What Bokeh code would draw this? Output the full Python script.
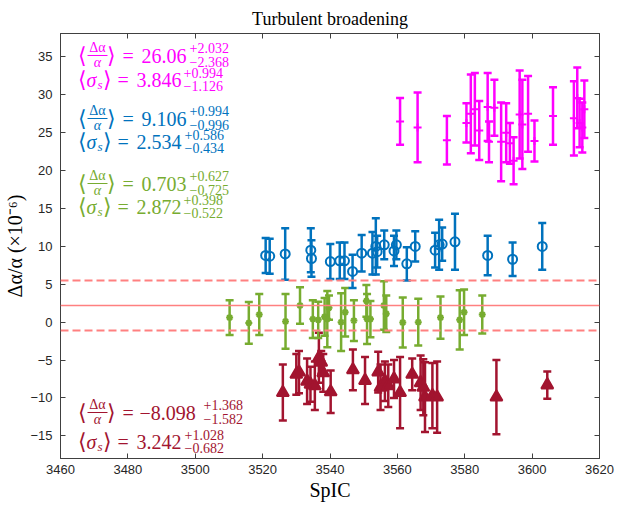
from bokeh.plotting import figure
from bokeh.models import (ColumnDataSource, Whisker, TeeHead, Span, Label, LinearAxis,
                          FixedTicker, Range1d, CustomLabelingPolicy)
from bokeh.embed import file_html
from bokeh.resources import INLINE

# ---------------- data ----------------
mag_x = [3560.8, 3566.0, 3574.7, 3580.5, 3581.8, 3583.0, 3584.3, 3586.8, 3587.2, 3588.8,
         3590.8, 3592.3, 3593.4, 3594.5, 3596.3, 3597.1, 3598.8, 3600.7, 3606.2, 3612.4,
         3613.4, 3614.1, 3614.9, 3615.5]
mag_y = [26.5, 25.7, 24.0, 26.3, 27.5, 28.1, 25.3, 28.4, 23.8, 28.3,
         23.8, 25.0, 23.6, 21.3, 27.4, 26.1, 27.5, 23.9, 27.2, 26.9,
         29.6, 26.3, 25.7, 28.1]
mag_e = [3.1, 4.6, 3.2, 2.6, 5.2, 4.8, 3.9, 4.5, 2.7, 3.7,
         5.2, 3.9, 2.7, 3.1, 5.8, 5.9, 5.0, 2.7, 3.8, 4.9,
         4.0, 3.2, 3.3, 3.8]

blu_x = [3520.9, 3522.1, 3526.7, 3534.3, 3534.5, 3540.1, 3542.9, 3544.3, 3546.7, 3549.4,
         3552.6, 3553.6, 3554.0, 3556.1, 3559.0, 3559.7, 3562.8, 3565.3, 3571.2, 3572.4,
         3573.3, 3577.1, 3586.8, 3594.2, 3603.0]
blu_y = [8.8, 8.7, 9.0, 9.5, 8.4, 8.0, 8.1, 8.1, 6.7, 9.1,
         9.1, 10.0, 9.3, 10.2, 9.4, 10.2, 7.7, 10.0, 9.5, 10.2,
         10.3, 10.6, 8.8, 8.3, 10.0]
blu_e = [2.3, 2.3, 3.4, 2.9, 2.4, 2.3, 2.4, 2.4, 2.2, 2.4,
         2.8, 3.7, 2.1, 1.9, 2.0, 1.9, 2.2, 2.0, 2.3, 3.3,
         2.2, 3.7, 2.6, 2.2, 3.1]

grn_x = [3510.2, 3515.9, 3519.0, 3526.8, 3531.1, 3534.9, 3536.5, 3538.4, 3539.2, 3539.7,
         3543.3, 3544.5, 3547.1, 3550.8, 3551.0, 3552.0, 3556.0, 3556.7, 3561.6, 3566.2,
         3572.8, 3578.5, 3579.8, 3585.2]
grn_y = [0.6, -0.1, 1.0, 0.1, 2.2, 0.4, 0.3, 0.7, 0.4, 1.9,
         0.0, 1.3, 0.2, 2.8, 0.4, 0.4, 2.2, 1.1, -0.05, 0.0,
         0.6, 0.3, 1.3, 1.0]
grn_e = [2.3, 2.75, 2.7, 3.6, 2.4, 2.5, 2.4, 2.5, 3.7, 1.6,
         3.8, 3.2, 2.7, 2.1, 3.3, 2.4, 3.2, 2.4, 3.3, 3.1,
         2.8, 3.9, 3.0, 2.5]

red_x = [3526.0, 3530.0, 3530.8, 3533.2, 3534.2, 3535.5, 3536.7, 3537.4, 3538.0, 3540.2,
         3546.8, 3550.4, 3554.3, 3555.0, 3556.3, 3557.3, 3559.0, 3560.8, 3564.4, 3566.9,
         3567.7, 3568.2, 3570.4, 3571.8, 3589.4, 3604.5]
red_y = [-9.3, -6.9, -6.6, -7.8, -8.2, -8.4, -4.7, -5.3, -6.7, -9.2,
         -6.3, -7.7, -6.6, -8.6, -7.8, -8.4, -7.5, -9.3, -6.9, -8.0,
         -8.6, -9.9, -9.7, -9.9, -9.9, -8.3]
red_e = [3.7, 2.7, 2.8, 3.0, 2.3, 3.2, 3.3, 1.5, 2.5, 2.8,
         2.7, 3.1, 2.7, 3.0, 2.6, 2.8, 2.5, 4.7, 2.1, 3.6,
         3.7, 4.6, 4.3, 4.7, 4.9, 1.8]

ref_mean = 2.2
ref_band = [-1.1, 5.5]

x_ticks = [3460, 3480, 3500, 3520, 3540, 3560, 3580, 3600, 3620]
y_ticks = [-15, -10, -5, 0, 5, 10, 15, 20, 25, 30, 35]

stats = [
    # color, <Δα/α> value, sup, sub, <σs> value, sup, sub
    ("#FF00FF", "26.06", "+2.032", "\u22122.368", "3.846", "+0.994", "\u22121.126"),
    ("#0072BD", "9.106", "+0.994", "\u22120.996", "2.534", "+0.586", "\u22120.434"),
    ("#77AC30", "0.703", "+0.627", "\u22120.725", "2.872", "+0.398", "\u22120.522"),
    ("#A2142F", "\u22128.098", "+1.368", "\u22121.582", "3.242", "+1.028", "\u22120.682"),
]

# ---------------- figure ----------------
X0, X1, Y0, Y1 = 3460, 3620, -18.0, 38.1
W, H = 623, 508
p = figure(width=W, height=H, output_backend="svg", toolbar_location=None,
           x_range=Range1d(X0, X1), y_range=Range1d(Y0, Y1),
           min_border_left=60, min_border_right=24, min_border_top=33, min_border_bottom=50,
           title="Turbulent broadening")
p.title.align = "center"
p.title.text_font = "Liberation Serif"
p.title.text_font_size = "18px"
p.title.text_font_style = "normal"
p.title.text_color = "#000000"
p.grid.visible = False
p.outline_line_color = "#404040"
p.background_fill_color = "white"
p.border_fill_color = "white"

no_labels = CustomLabelingPolicy(code="""
const keep = [];
for (const i of indices) keep.push(i);
for (const i of keep) indices.unset(i);
return indices;
""")

def style_axis(ax, ticks, labels=True):
    ax.ticker = FixedTicker(ticks=ticks)
    ax.minor_tick_line_color = None
    ax.minor_tick_in = 0
    ax.minor_tick_out = 0
    ax.major_tick_in = 5
    ax.major_tick_out = 0
    ax.major_tick_line_color = "#404040"
    ax.axis_line_color = "#404040"
    if labels:
        ax.major_label_text_font = "Liberation Sans"
        ax.major_label_text_font_size = "13px"
        ax.major_label_text_color = "#262626"
    else:
        ax.major_label_policy = no_labels
        ax.major_label_text_font_size = "0px"
        ax.major_label_standoff = 0

style_axis(p.xaxis[0], x_ticks)
style_axis(p.yaxis[0], y_ticks)
p.xaxis[0].major_label_standoff = 6
p.yaxis[0].major_label_standoff = 8
p.xaxis.axis_label = "SpIC"
p.yaxis.axis_label = "\u0394\u03b1/\u03b1 (\u00d710\u207b\u2076)"
for ax in (p.xaxis[0], p.yaxis[0]):
    ax.axis_label_text_font = "Liberation Serif"
    ax.axis_label_text_font_style = "normal"
    ax.axis_label_text_font_size = "20px"
    ax.axis_label_text_color = "#000000"
p.xaxis[0].axis_label_standoff = 2
p.yaxis[0].axis_label_standoff = 1

top_ax = LinearAxis()
style_axis(top_ax, x_ticks, labels=False)
p.add_layout(top_ax, "above")
right_ax = LinearAxis()
style_axis(right_ax, y_ticks, labels=False)
p.add_layout(right_ax, "right")

# reference lines
red_line = "#FF8080"
p.add_layout(Span(location=ref_mean, dimension="width", line_color=red_line, line_width=1.5))
for b in ref_band:
    p.add_layout(Span(location=b, dimension="width", line_color=red_line, line_width=2,
                      line_dash="8 4"))

def series(xs, ys, es, color, marker, size, filled):
    src = ColumnDataSource(dict(x=xs, y=ys,
                                lo=[y - e for y, e in zip(ys, es)],
                                hi=[y + e for y, e in zip(ys, es)]))
    w = Whisker(base="x", lower="lo", upper="hi", source=src, line_color=color, line_width=2.5,
                upper_head=TeeHead(size=8, line_color=color, line_width=2.5),
                lower_head=TeeHead(size=8, line_color=color, line_width=2.5))
    p.add_layout(w)
    p.scatter("x", "y", source=src, marker=marker, size=size, line_color=color,
              line_width=2, fill_color=color if filled else None)

series(red_x, red_y, red_e, "#A2142F", "triangle", 12, True)
series(grn_x, grn_y, grn_e, "#77AC30", "asterisk", 7, False)
series(blu_x, blu_y, blu_e, "#0072BD", "circle", 9, False)
series(mag_x, mag_y, mag_e, "#FF00FF", "cross", 8, False)

# ---------------- annotations (positioned in page pixels) ----------------
FX0, FX1, FY0, FY1 = 60, 599, 33, 458
def px2x(px):
    return X0 + (px - FX0) / (FX1 - FX0) * (X1 - X0)
def py2y(py):
    return Y1 - (py - FY0) / (FY1 - FY0) * (Y1 - Y0)

SERIF = "Liberation Serif"
def lab(text, px, py, color, size, style="normal", align="left"):
    p.add_layout(Label(x=px2x(px), y=py2y(py), text=text, text_color=color,
                       text_font=SERIF, text_font_size=f"{size}px", text_font_style=style,
                       text_align=align, text_baseline="middle"))

centers = [(55, 79), (118, 141), (183, 206), (412, 441)]
supx = [(189, 183), (189, 184), (189, 183), (203, 184)]
for (color, v1, s1, b1, v2, s2, b2), (c1, c2), (sx1, sx2) in zip(stats, centers, supx):
    # line 1: <Δα/α> = v1
    lab("\u27e8", 77, c1, color, 22)
    lab("\u0394\u03b1", 97, c1 - 8, color, 14, align="center")
    p.segment(x0=[px2x(87)], y0=[py2y(c1)], x1=[px2x(107)], y1=[py2y(c1)],
              line_color=color, line_width=1)
    lab("\u03b1", 97, c1 + 7, color, 14, style="italic", align="center")
    lab("\u27e9", 106, c1, color, 22)
    lab("=", 122, c1, color, 20)
    lab(v1, 141 if not v1.startswith("\u2212") else 139, c1, color, 20)
    lab(s1, sx1, c1 - 8, color, 14)
    lab(b1, sx1, c1 + 6, color, 14)
    # line 2: <σs> = v2
    lab("\u27e8", 77, c2, color, 22)
    lab("\u03c3", 86, c2, color, 20, style="italic")
    lab("s", 97, c2 + 5, color, 13, style="italic")
    lab("\u27e9", 102, c2, color, 22)
    lab("=", 117, c2, color, 20)
    lab(v2, 136, c2, color, 20)
    lab(s2, sx2, c2 - 7, color, 14)
    lab(b2, sx2, c2 + 6, color, 14)

open("out.html", "w").write(file_html(p, INLINE))
